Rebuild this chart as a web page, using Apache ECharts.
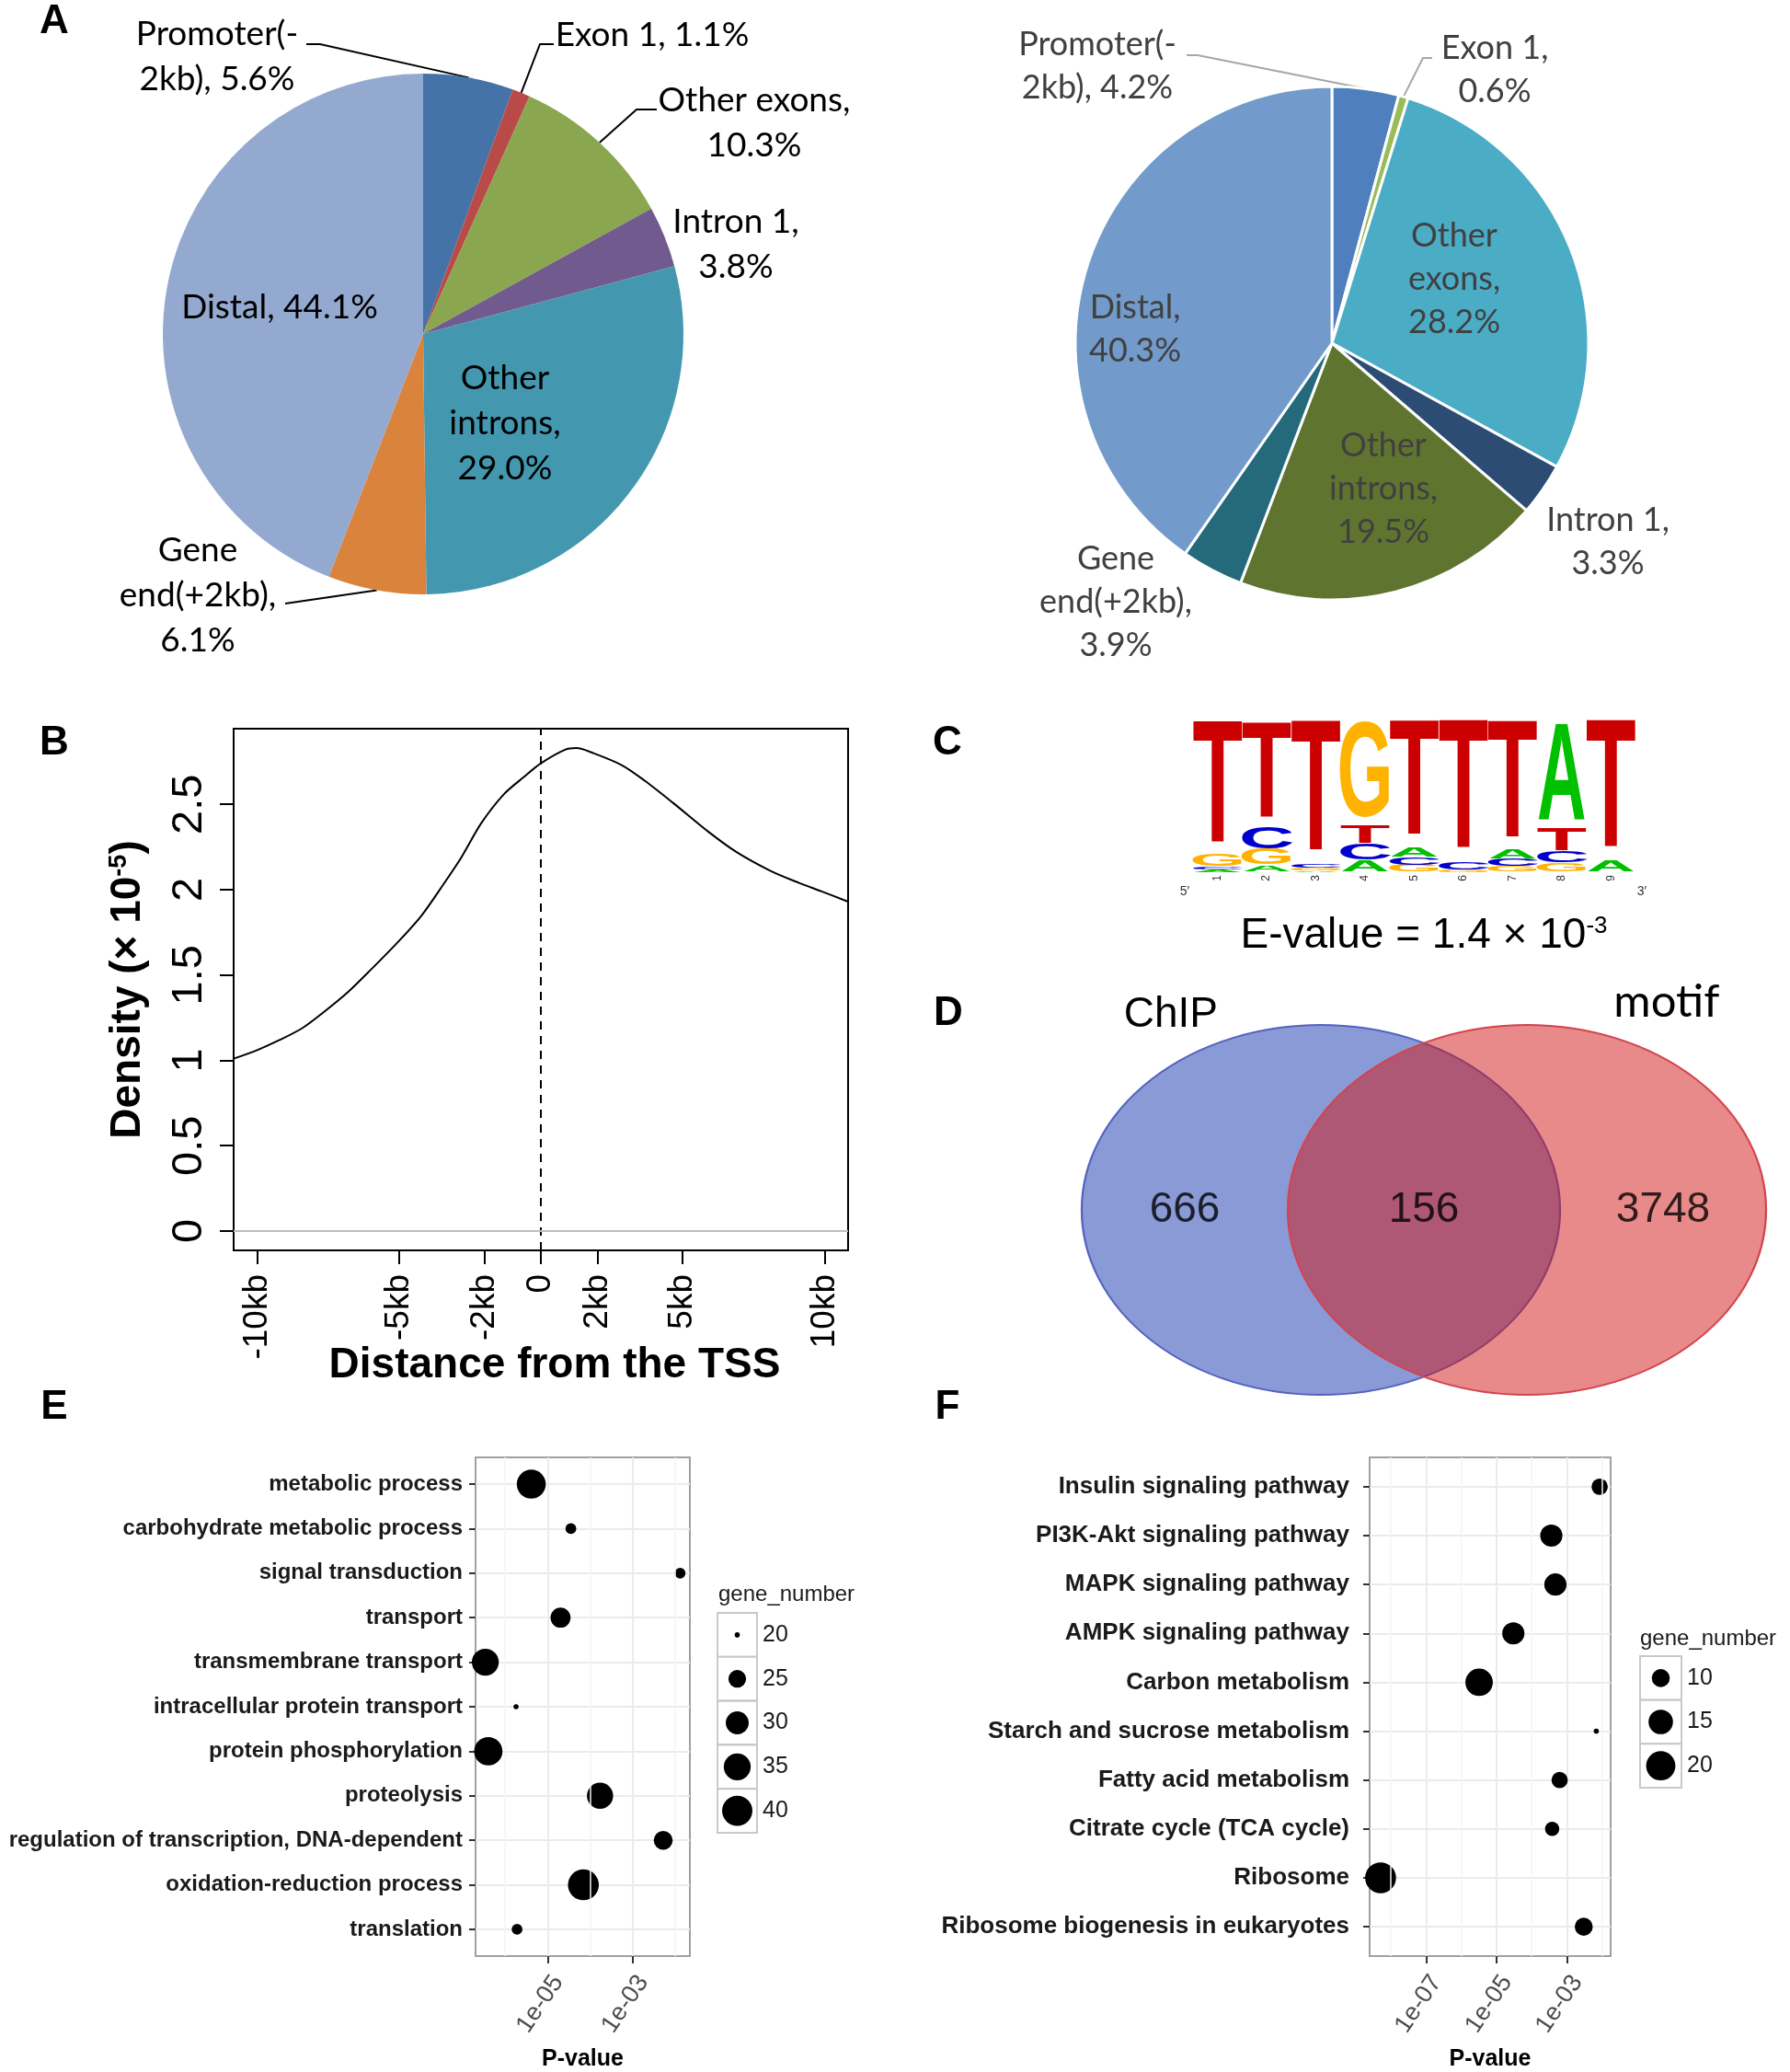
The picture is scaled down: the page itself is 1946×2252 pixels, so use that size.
<!DOCTYPE html>
<html>
<head>
<meta charset="utf-8">
<script src="https://cdn.jsdelivr.net/npm/echarts@6/dist/echarts.min.js"></script>
<style>
  html, body { margin: 0; padding: 0; background: #fff; }
  #fig { width: 1946px; height: 2252px; }
</style>
</head>
<body>
<div id="fig"></div>
<script>
// A: genomic distribution of peaks (left and right pie)
const pieNames = ['Promoter(-2kb)', 'Exon 1', 'Other exons', 'Intron 1', 'Other introns', 'Gene end(+2kb)', 'Distal'];
const pieLeftValues = [5.6, 1.1, 10.3, 3.8, 29.0, 6.1, 44.1];
const pieRightValues = [4.2, 0.6, 28.2, 3.3, 19.5, 3.9, 40.3];

// B: peak density around the TSS (kb, density x 1e-5)
const tssDistance = [-10.83, -10.0, -9.2, -8.4, -7.6, -6.8, -6.0, -5.0, -4.2, -3.4, -2.8, -2.1, -1.3, -0.6, 0, 0.85, 1.25, 1.85, 2.85, 3.65, 4.65, 5.9, 6.9, 8.1, 9.1, 9.9, 10.83];
const tssDensity = [1.01, 1.06, 1.12, 1.19, 1.29, 1.40, 1.53, 1.70, 1.85, 2.04, 2.19, 2.39, 2.56, 2.66, 2.74, 2.82, 2.83, 2.80, 2.73, 2.64, 2.51, 2.34, 2.22, 2.11, 2.04, 1.99, 1.93];
const tssTicks = [-10, -5, -2, 0, 2, 5, 10];
const tssTickLabels = ['-10kb', '-5kb', '-2kb', '0', '2kb', '5kb', '10kb'];
const densityTicks = [0, 0.5, 1, 1.5, 2, 2.5];

// C: motif logo, letters stacked bottom -> top with their share of each column
const logoPositions = ['1', '2', '3', '4', '5', '6', '7', '8', '9'];
const logoStacks = [
  [['A', 0.015], ['C', 0.02], ['G', 0.085], ['T', 0.88]],
  [['A', 0.044], ['G', 0.11], ['C', 0.153], ['T', 0.693]],
  [['A', 0.01], ['G', 0.02], ['C', 0.025], ['T', 0.945]],
  [['A', 0.08], ['C', 0.11], ['T', 0.13], ['G', 0.68]],
  [['G', 0.048], ['C', 0.055], ['A', 0.072], ['T', 0.825]],
  [['G', 0.015], ['C', 0.05], ['T', 0.935]],
  [['G', 0.04], ['C', 0.048], ['A', 0.066], ['T', 0.846]],
  [['G', 0.061], ['C', 0.077], ['T', 0.16], ['A', 0.702]],
  [['A', 0.075], ['T', 0.925]]
];

// D: Venn counts
const vennSets = ['ChIP', 'motif'];
const vennCounts = [666, 156, 3748]; // ChIP only, both, motif only

// E: GO terms
const goTerms = ['metabolic process', 'carbohydrate metabolic process', 'signal transduction', 'transport',
  'transmembrane transport', 'intracellular protein transport', 'protein phosphorylation', 'proteolysis',
  'regulation of transcription, DNA-dependent', 'oxidation-reduction process', 'translation'];
const goPValue = [4.1e-6, 3.5e-5, 1.3e-2, 2.0e-5, 3.4e-7, 1.8e-6, 4.0e-7, 1.7e-4, 5.2e-3, 6.9e-5, 1.9e-6];
const goGeneNumber = [38, 21, 21, 27, 35, 20, 37, 34, 26, 41, 21];
const goPTicks = [-5, -3];
const goPMinor = [-6, -4, -2];
const goSizeBreaks = [20, 25, 30, 35, 40];

// F: KEGG pathways
const keggPathways = ['Insulin signaling pathway', 'PI3K-Akt signaling pathway', 'MAPK signaling pathway',
  'AMPK signaling pathway', 'Carbon metabolism', 'Starch and sucrose metabolism', 'Fatty acid metabolism',
  'Citrate cycle (TCA cycle)', 'Ribosome', 'Ribosome biogenesis in eukaryotes'];
const keggPValue = [8.5e-3, 3.6e-4, 4.7e-4, 3.0e-5, 3.2e-6, 6.8e-3, 6.2e-4, 3.8e-4, 5.1e-9, 3.0e-3];
const keggGeneNumber = [9, 13, 13, 13, 18, 6, 9, 8, 22, 10];
const keggPTicks = [-7, -5, -3];
const keggPMinor = [-8, -6, -4, -2];
const keggSizeBreaks = [10, 15, 20];

// ---------- helpers ----------
const SANS = 'Liberation Sans';
const sum = a => a.reduce((s, v) => s + v, 0);

function sliceEdge(center, r, values, i) {
  const ang = (sum(values.slice(0, i)) + values[i] / 2) / sum(values) * 2 * Math.PI;
  return [center[0] + r * Math.sin(ang), center[1] - r * Math.cos(ang)];
}

function pieSeries(cfg) {
  return {
    type: 'pie',
    center: cfg.center,
    radius: [0, cfg.r],
    startAngle: 90,
    clockwise: true,
    avoidLabelOverlap: false,
    silent: true,
    emphasis: { disabled: true },
    itemStyle: { borderColor: '#fff', borderWidth: cfg.border },
    data: pieNames.map((n, i) => ({
      name: n,
      value: cfg.values[i],
      itemStyle: { color: cfg.colors[i] },
      label: { position: cfg.inside[i] ? 'inside' : 'outside' },
      labelLine: { show: !!cfg.leaders[i] }
    })),
    label: {
      show: true,
      fontFamily: 'Lato',
      fontSize: cfg.fontSize,
      lineHeight: cfg.lineHeight,
      color: cfg.textColor,
      formatter: p => cfg.wrap[p.dataIndex] + cfg.values[p.dataIndex].toFixed(1) + '%'
    },
    labelLine: { lineStyle: { color: cfg.lineColor, width: 2 }, length: 10, length2: 10 },
    labelLayout: p => {
      const i = p.dataIndex;
      const out = { x: cfg.at[i][0], y: cfg.at[i][1], align: 'center', verticalAlign: 'middle' };
      if (cfg.leaders[i]) {
        out.labelLinePoints = [sliceEdge(cfg.center, cfg.r, cfg.values, i)].concat(cfg.leaders[i]);
      }
      return out;
    }
  };
}

function paddedExtent(vals, frac) {
  const lo = Math.min(...vals), hi = Math.max(...vals);
  const pad = (hi - lo) * frac;
  return [lo - pad, hi + pad];
}

function sizeScale(values) {
  const lo = Math.min(...values), hi = Math.max(...values);
  return v => 5.6 * (1 + 5 * Math.sqrt(Math.max(0, (v - lo) / (hi - lo))));
}

// ---------- logo items ----------
const logoColors = { A: '#00C000', C: '#0000CC', G: '#FFB300', T: '#CC0000' };
const logoInk = { A: 0.70, C: 0.62, G: 0.66, T: 0.58 };
const logoLetters = ['A', 'C', 'G', 'T'];
const logoItems = [];
logoStacks.forEach((stack, pos) => {
  let y = 0;
  stack.forEach(([letter, h]) => {
    logoItems.push([pos, y, y + h, logoLetters.indexOf(letter)]);
    y += h;
  });
});

// ---------- venn geometry ----------
const vennGap = 224;          // px between ellipse centres (grid width)
const vennSize = [520, 402];  // ellipse px size
const vennRx = vennSize[0] / 2 / vennGap;
const vennRegionX = [0.5 - vennRx, 0.5, 0.5 + vennRx];

// ---------- dot plot scales ----------
const goLog = goPValue.map(Math.log10);
const keggLog = keggPValue.map(Math.log10);
const goExtent = paddedExtent(goLog, 0.05);
const keggExtent = paddedExtent(keggLog, 0.05);
const goSize = sizeScale(goGeneNumber);
const keggSize = sizeScale(keggGeneNumber);
const densityMax = Math.max(...tssDensity);
const pFmt = v => '1e-0' + Math.abs(v);

function dotAxes(grid, legendGrid, cats, extent, ticks, breaks, labelSize, labelMargin) {
  return {
    x: [
      {
        gridIndex: grid, type: 'value', min: extent[0], max: extent[1],
        axisLine: { show: false, onZero: false },
        axisTick: { show: true, customValues: ticks, length: 8, lineStyle: { color: '#333', width: 2 } },
        axisLabel: { customValues: ticks, formatter: pFmt, rotate: 56, fontSize: 27, color: '#4d4d4d',
          margin: 16, verticalAlign: 'top' },
        splitLine: { show: true, lineStyle: { color: '#EBEBEB', width: 2 } },
        name: 'P-value', nameLocation: 'middle', nameGap: 100,
        nameTextStyle: { fontSize: 25, fontWeight: 'bold', color: '#000' }
      },
      { gridIndex: legendGrid, type: 'value', min: 0, max: 1, show: false }
    ],
    y: [
      {
        gridIndex: grid, type: 'value', min: -0.6, max: cats.length - 0.4, inverse: true,
        axisLine: { show: false, onZero: false },
        axisTick: { show: true, customValues: cats.map((c, i) => i), length: 7, lineStyle: { color: '#333', width: 2 } },
        axisLabel: { customValues: cats.map((c, i) => i), formatter: v => cats[v], fontSize: labelSize,
          fontWeight: 'bold', color: '#1a1a1a', margin: labelMargin },
        splitLine: { show: true, lineStyle: { color: '#EBEBEB', width: 2 } }
      },
      {
        gridIndex: legendGrid, type: 'category', data: breaks.map(String), inverse: true, position: 'right',
        axisLine: { show: false }, axisTick: { show: false },
        axisLabel: { fontSize: 25, color: '#1a1a1a', margin: 6 }
      }
    ]
  };
}

const eAx = dotAxes(3, 4, goTerms, goExtent, goPTicks, goSizeBreaks, 24, 14);
const fAx = dotAxes(5, 6, keggPathways, keggExtent, keggPTicks, keggSizeBreaks, 26, 22);

function dotSeries(xi, logs, counts, size, minor, extent) {
  return [
    {
      type: 'scatter', xAxisIndex: xi, yAxisIndex: xi, silent: true, z: 1,
      data: logs.map((v, i) => [v, i]), symbolSize: 0,
      markLine: {
        silent: true, symbol: 'none', label: { show: false },
        lineStyle: { color: '#F4F4F4', width: 1.5, type: 'solid' },
        data: minor.filter(m => m > extent[0] && m < extent[1]).map(m => ({ xAxis: m }))
      }
    },
    {
      type: 'scatter', xAxisIndex: xi, yAxisIndex: xi, silent: true, z: 3, clip: false,
      data: logs.map((v, i) => [v, i, counts[i]]),
      symbolSize: d => size(d[2]),
      itemStyle: { color: '#000', opacity: 1 }
    }
  ];
}

function legendSeries(xi, breaks, size, boxW, boxH) {
  return [
    {
      type: 'scatter', xAxisIndex: xi, yAxisIndex: xi, silent: true, z: 1,
      data: breaks.map((b, i) => [0.5, i]), symbol: 'rect', symbolSize: [boxW, boxH],
      itemStyle: { color: '#fff', borderColor: '#C8C8C8', borderWidth: 2, opacity: 1 }
    },
    {
      type: 'scatter', xAxisIndex: xi, yAxisIndex: xi, silent: true, z: 3,
      data: breaks.map((b, i) => [0.5, i, b]), symbolSize: d => size(d[2]),
      itemStyle: { color: '#000', opacity: 1 }
    }
  ];
}

const letters = [['A', 59, 24], ['B', 59, 808], ['C', 1030, 808], ['D', 1031, 1102], ['E', 59, 1530], ['F', 1030, 1530]];

const chart = echarts.init(document.getElementById('fig'), null, { renderer: 'canvas' });
chart.setOption({
  animation: false,
  backgroundColor: '#fff',
  textStyle: { fontFamily: SANS },
  grid: [
    { left: 254, top: 792, width: 668, height: 567, show: true, borderColor: '#000', borderWidth: 2, backgroundColor: 'transparent' },
    { left: 1297, top: 794, width: 481, height: 154 },
    { left: 1436, top: 1215, width: vennGap, height: 200 },
    { left: 517, top: 1584, width: 233, height: 543, show: true, borderColor: '#A0A0A0', borderWidth: 2, backgroundColor: 'transparent' },
    { left: 780, top: 1753, width: 43, height: 239 },
    { left: 1489, top: 1584, width: 262, height: 543, show: true, borderColor: '#A0A0A0', borderWidth: 2, backgroundColor: 'transparent' },
    { left: 1783, top: 1800, width: 45, height: 143 }
  ],
  xAxis: [
    {
      gridIndex: 0, type: 'value', min: -10.83, max: 10.83,
      axisLine: { show: false, onZero: false },
      axisTick: { show: true, customValues: tssTicks, length: 15, lineStyle: { color: '#000', width: 2 } },
      axisLabel: { customValues: tssTicks, formatter: v => tssTickLabels[tssTicks.indexOf(v)], rotate: 90,
        fontSize: 37, color: '#000', margin: 26 },
      splitLine: { show: false },
      name: 'Distance from the TSS', nameLocation: 'middle', nameGap: 102, nameMoveOverlap: false,
      nameTextStyle: { fontSize: 46, fontWeight: 'bold', color: '#000', padding: [0, 0, 0, 30] }
    },
    {
      gridIndex: 1, type: 'category', data: logoPositions,
      axisLine: { show: false }, axisTick: { show: false },
      axisLabel: { fontSize: 12, rotate: 90, margin: 3, color: '#333' }
    },
    { gridIndex: 2, type: 'value', min: 0, max: 1, show: false },
    eAx.x[0], eAx.x[1], fAx.x[0], fAx.x[1]
  ],
  yAxis: [
    {
      gridIndex: 0, type: 'value', min: -0.04 * densityMax, max: densityMax * 1.04,
      axisLine: { show: false, onZero: false },
      axisTick: { show: true, customValues: densityTicks, length: 15, lineStyle: { color: '#000', width: 2 } },
      axisLabel: { customValues: densityTicks, formatter: v => String(v), rotate: 90, fontSize: 47, color: '#000', margin: 24 },
      splitLine: { show: false },
      name: '{m|Density (× 10}{s|-5}{m|)}', nameLocation: 'middle', nameRotate: 90, nameGap: 92,
      nameTextStyle: {
        rich: {
          m: { fontSize: 46, fontWeight: 'bold', color: '#000', fontFamily: SANS },
          s: { fontSize: 27, fontWeight: 'bold', color: '#000', fontFamily: SANS, verticalAlign: 'top' }
        }
      }
    },
    { gridIndex: 1, type: 'value', min: 0, max: 1, show: false },
    { gridIndex: 2, type: 'value', min: -1, max: 1, show: false },
    eAx.y[0], eAx.y[1], fAx.y[0], fAx.y[1]
  ],
  series: [
    pieSeries({
      center: [460, 363], r: 283, values: pieLeftValues, border: 0,
      colors: ['#4673A7', '#B84A47', '#8AA64E', '#715A8D', '#4398AF', '#DA833C', '#94A9CF'],
      inside: [false, false, false, false, true, false, true],
      wrap: ['Promoter(-\n2kb), ', 'Exon 1, ', 'Other exons,\n', 'Intron 1,\n', 'Other\nintrons,\n', 'Gene\nend(+2kb),\n', 'Distal, '],
      at: [[236, 62], [709, 38], [820, 134], [800, 266], [549, 460], [215, 647], [304, 334]],
      leaders: [[[348, 48], [333, 48]], [[587, 48], [602, 48]], [[692, 119], [714, 119]], null, null, [[310, 656]], null],
      fontSize: 37, lineHeight: 49, textColor: '#000', lineColor: '#000'
    }),
    pieSeries({
      center: [1448, 373], r: 279, values: pieRightValues, border: 3,
      colors: ['#4F7FBC', '#9BBB59', '#4BACC6', '#2C4C74', '#5F752F', '#246A7A', '#729ACA'],
      inside: [false, false, true, false, true, false, true],
      wrap: ['Promoter(-\n2kb), ', 'Exon 1,\n', 'Other\nexons,\n', 'Intron 1,\n', 'Other\nintrons,\n', 'Gene\nend(+2kb),\n', 'Distal,\n'],
      at: [[1193, 72], [1625, 76], [1581, 303], [1748, 589], [1504, 531], [1213, 654], [1234, 358]],
      leaders: [[[1302, 60], [1290, 60]], [[1547, 63], [1557, 63]], null, null, null, null, null],
      fontSize: 36, lineHeight: 47, textColor: '#404040', lineColor: '#A6A6A6'
    }),
    {
      type: 'line', xAxisIndex: 0, yAxisIndex: 0, silent: true,
      data: tssDistance.map((x, i) => [x, tssDensity[i]]),
      showSymbol: false, smooth: 0.3,
      lineStyle: { color: '#000', width: 2 },
      markLine: {
        silent: true, symbol: 'none', label: { show: false },
        data: [
          { xAxis: 0, lineStyle: { color: '#000', width: 2, type: [9, 7] } },
          { yAxis: 0, lineStyle: { color: '#BDBDBD', width: 2, type: 'solid' } }
        ]
      }
    },
    {
      type: 'custom', xAxisIndex: 1, yAxisIndex: 1, silent: true,
      data: logoItems,
      renderItem: (params, api) => {
        const pos = api.value(0);
        const letter = logoLetters[api.value(3)];
        const bottom = api.coord([pos, api.value(1)]);
        const top = api.coord([pos, api.value(2)]);
        const h = bottom[1] - top[1];
        if (h < 0.5) return null;
        const band = api.size([1, 0])[0] * 0.97;
        const F = 100;
        return {
          type: 'text',
          x: bottom[0], y: (bottom[1] + top[1]) / 2,
          scaleX: band / (logoInk[letter] * F),
          scaleY: h / (0.716 * F),
          style: { text: letter, fontSize: F, fontWeight: 'bold', fontFamily: SANS,
            fill: logoColors[letter], align: 'center', verticalAlign: 'middle' }
        };
      }
    },
    {
      type: 'scatter', xAxisIndex: 2, yAxisIndex: 2, silent: true, clip: false,
      symbolSize: vennSize,
      data: [
        {
          name: vennSets[0], value: [0, 0],
          itemStyle: { color: '#8A9AD6', borderColor: '#5563BE', borderWidth: 2, opacity: 1 },
          label: { show: true, formatter: '{b}', position: [98, -10], align: 'center', verticalAlign: 'middle',
            fontSize: 46, color: '#000', fontFamily: SANS }
        },
        {
          name: vennSets[1], value: [1, 0],
          itemStyle: { color: 'rgba(209,21,21,0.5)', borderColor: '#D2444E', borderWidth: 2, opacity: 1 },
          label: { show: true, formatter: '{b}', position: [413, -24], align: 'center', verticalAlign: 'middle',
            fontSize: 49, color: '#000', fontFamily: 'Lato' }
        }
      ]
    },
    {
      type: 'scatter', xAxisIndex: 2, yAxisIndex: 2, silent: true, clip: false, symbolSize: 0,
      data: vennCounts.map((c, i) => [vennRegionX[i], 0, c]),
      label: { show: true, position: 'inside', formatter: p => String(p.value[2]), fontSize: 46, color: '#000', fontFamily: SANS }
    },
    ...dotSeries(3, goLog, goGeneNumber, goSize, goPMinor, goExtent),
    ...legendSeries(4, goSizeBreaks, goSize, 43, 47.8),
    ...dotSeries(5, keggLog, keggGeneNumber, keggSize, keggPMinor, keggExtent),
    ...legendSeries(6, keggSizeBreaks, keggSize, 45, 47.7)
  ],
  graphic: [
    ...letters.map(([t, x, y]) => ({
      type: 'text', x, y, silent: true,
      style: { text: t, font: 'bold 44px ' + SANS, fill: '#000', align: 'center', verticalAlign: 'middle' }
    })),
    { type: 'text', x: 1288, y: 969, silent: true, style: { text: "5′", font: '14px ' + SANS, fill: '#333', align: 'center', verticalAlign: 'middle' } },
    { type: 'text', x: 1785, y: 969, silent: true, style: { text: "3′", font: '14px ' + SANS, fill: '#333', align: 'center', verticalAlign: 'middle' } },
    {
      type: 'text', x: 1548, y: 1017, silent: true,
      style: {
        text: '{m|E-value = 1.4 × 10}{s|-3}', align: 'center', verticalAlign: 'middle',
        rich: {
          m: { fontSize: 46, fontFamily: SANS, fill: '#000' },
          s: { fontSize: 26, fontFamily: SANS, fill: '#000', verticalAlign: 'top' }
        }
      }
    },
    { type: 'text', x: 781, y: 1733, silent: true, style: { text: 'gene_number', font: '24px ' + SANS, fill: '#1a1a1a', align: 'left', verticalAlign: 'middle' } },
    { type: 'text', x: 1783, y: 1781, silent: true, style: { text: 'gene_number', font: '24px ' + SANS, fill: '#1a1a1a', align: 'left', verticalAlign: 'middle' } }
  ]
});
</script>
</body>
</html>
